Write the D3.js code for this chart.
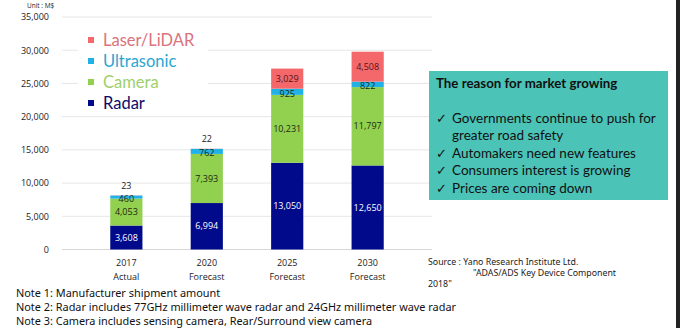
<!DOCTYPE html>
<html>
<head>
<meta charset="utf-8">
<script src="https://cdn.jsdelivr.net/npm/d3@7"></script>
<style>
  body { margin: 0; background: #fff; }
  svg { display: block; font-family: "Open Sans", "Noto Sans", sans-serif; }
  .tick text { fill: #222; }
</style>
</head>
<body>
<div id="graph1"></div>
<script>
// chart values
var years = ["2017", "2020", "2025", "2030"];
var yearNotes = ["Actual", "Forecast", "Forecast", "Forecast"];
var series = ["Radar", "Camera", "Ultrasonic", "Laser/LiDAR"];
var radar = [3608, 6994, 13050, 12650];
var camera = [4053, 7393, 10231, 11797];
var ultrasonic = [460, 762, 925, 822];
var lidar = [23, 22, 3029, 4508];
var yTicks = [0, 5000, 10000, 15000, 20000, 25000, 30000, 35000];
var reasons = ["Governments continue to push for", "greater road safety", "Automakers need new features", "Consumers interest is growing", "Prices are coming down"];
var notes = ["Note 1: Manufacturer shipment amount",
  "Note 2: Radar includes 77GHz millimeter wave radar and 24GHz millimeter wave radar",
  "Note 3: Camera includes sensing camera, Rear/Surround view camera"];

var width = 680, height = 328;

var svg = d3.select("#graph1")
  .append("svg")
    .attr("width", width)
    .attr("height", height);

var data = years.map(function(y, i) {
  return {year: y, "Radar": radar[i], "Camera": camera[i], "Ultrasonic": ultrasonic[i], "Laser/LiDAR": lidar[i]};
});

var x = d3.scaleBand()
    .domain(years)
    .range([62, 432])
    .padding(0.6);

var y = d3.scaleLinear()
    .domain([0, 35000])
    .range([249.5, 17]);

var color = d3.scaleOrdinal()
    .domain(series)
    .range(["#020a8c", "#92d050", "#20b1e6", "#f4686c"]);

// gridlines + y axis labels
svg.append("g")
  .selectAll("line")
  .data(yTicks)
  .enter().append("line")
    .attr("x1", 62).attr("x2", 432)
    .attr("y1", function(d) { return y(d); })
    .attr("y2", function(d) { return y(d); })
    .attr("stroke", function(d) { return d == 0 ? "#d6d6d6" : "#e6e6e6"; })
    .attr("stroke-width", 1);

var yAxis = svg.append("g")
    .attr("transform", "translate(52,0)")
    .call(d3.axisLeft(y).tickValues(yTicks).tickSize(0).tickFormat(d3.format(",")));
yAxis.select(".domain").remove();
yAxis.selectAll("text").attr("font-size", 9).attr("font-family", "Open Sans");

svg.append("text")
  .text("Unit : M$")
  .attr("x", 27).attr("y", 8)
  .attr("font-size", 6.5)
  .attr("fill", "#222");

// stacked bars
var stacked = d3.stack().keys(series)(data);

var layers = svg.append("g")
  .selectAll("g")
  .data(stacked)
  .enter().append("g")
    .attr("fill", function(d) { return color(d.key); });

layers.selectAll("rect")
  .data(function(d) { return d; })
  .enter().append("rect")
    .attr("x", function(d) { return x(d.data.year); })
    .attr("y", function(d) { return y(d[1]); })
    .attr("width", x.bandwidth())
    .attr("height", function(d) { return y(d[0]) - y(d[1]); });

// value labels
var fmt = d3.format(",");
stacked.forEach(function(layer) {
  layer.forEach(function(d) {
    var v = d[1] - d[0];
    var cx = x(d.data.year) + x.bandwidth() / 2;
    var ty, fill;
    if (v < 100) {
      ty = y(d[1]) - 6.5;
      fill = "#222";
    } else {
      ty = (y(d[0]) + y(d[1])) / 2 + 3.2;
      if (layer.key == "Ultrasonic") ty += 1.8;
      fill = layer.key == "Radar" ? "#ffffff" : (layer.key == "Laser/LiDAR" ? "#5a1010" : "#1a2a10");
    }
    svg.append("text")
      .text(fmt(v))
      .attr("x", cx).attr("y", ty)
      .attr("text-anchor", "middle")
      .attr("font-size", 9)
      .attr("fill", fill);
  });
});

// x labels
var xl = svg.append("g");
years.forEach(function(yr, i) {
  var cx = x(yr) + x.bandwidth() / 2;
  xl.append("text").text(yr)
    .attr("x", cx).attr("y", 266)
    .attr("text-anchor", "middle").attr("font-size", 9).attr("fill", "#222");
  xl.append("text").text(yearNotes[i])
    .attr("x", cx).attr("y", 279.5)
    .attr("text-anchor", "middle").attr("font-size", 9).attr("fill", "#222");
});

// legend
var legendColors = {"Laser/LiDAR": "#d9737c", "Ultrasonic": "#2aa6d2", "Camera": "#9fcf6c", "Radar": "#0b0b6a"};
var legend = svg.append("g");
legend.append("rect")
  .attr("x", 78).attr("y", 29).attr("width", 130).attr("height", 84)
  .attr("fill", "#fff");
series.slice().reverse().forEach(function(s, i) {
  var ly = 40 + i * 21;
  legend.append("rect")
    .attr("x", 88).attr("y", ly - 3).attr("width", 6).attr("height", 6)
    .attr("fill", color(s));
  legend.append("text").text(s)
    .attr("x", 103).attr("y", ly + 5.5)
    .attr("font-size", 16.5)
    .attr("font-family", "Lato")
    .attr("fill", legendColors[s]);
});

// reason box
var box = svg.append("g");
box.append("rect")
  .attr("x", 429).attr("y", 71).attr("width", 239).attr("height", 129)
  .attr("fill", "#4cc3b7");
box.append("text").text("The reason for market growing")
  .attr("x", 436).attr("y", 87.5)
  .attr("font-size", 13.3).attr("font-weight", "bold")
  .attr("font-family", "Lato").attr("fill", "#111");
reasons.forEach(function(r, i) {
  var ty = 122.5 + i * 17.5;
  if (i != 1) {
    box.append("text").text("\u2713")
      .attr("x", 436).attr("y", ty)
      .attr("font-size", 13).attr("font-weight", "bold")
      .attr("font-family", "DejaVu Sans").attr("fill", "#111");
  }
  box.append("text").text(r)
    .attr("x", 452).attr("y", ty)
    .attr("font-size", 13.5).attr("font-family", "Lato").attr("fill", "#111");
});

// source
var src = svg.append("g").attr("font-size", 8.8).attr("fill", "#222").attr("font-family", "Noto Sans");
src.append("text").text("Source : Yano Research Institute Ltd.").attr("x", 428).attr("y", 265);
src.append("text").text("\"ADAS/ADS Key Device Component").attr("x", 473).attr("y", 276);
src.append("text").text("2018\"").attr("x", 428).attr("y", 287);

// notes
notes.forEach(function(n, i) {
  svg.append("text").text(n)
    .attr("x", 16).attr("y", 297 + i * 14)
    .attr("font-size", 10.9)
    .attr("font-family", "Noto Sans")
    .attr("fill", "#111");
});

// dark right edge
svg.append("rect").attr("x", 676).attr("y", 0).attr("width", 4).attr("height", height).attr("fill", "#222");
</script>
</body>
</html>
